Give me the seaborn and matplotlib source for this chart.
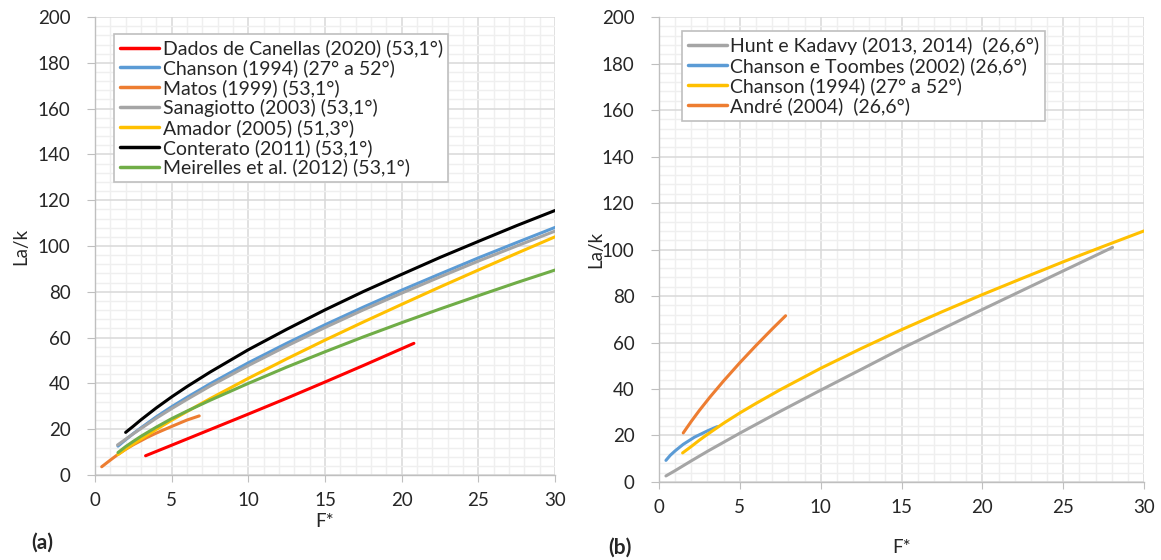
import numpy as np
import pandas as pd
import seaborn as sns
import matplotlib.pyplot as plt
from matplotlib.ticker import MultipleLocator

# ---- panel (a) data ----
labels_a = ["Dados de Canellas (2020) (53,1°)", "Chanson (1994) (27° a 52°)", "Matos (1999) (53,1°)",
            "Sanagiotto (2003) (53,1°)", "Amador (2005) (51,3°)", "Conterato (2011) (53,1°)",
            "Meirelles et al. (2012) (53,1°)"]
colors_a = ["#FF0000", "#5B9BD5", "#ED7D31", "#A5A5A5", "#FFC000", "#000000", "#70AD47"]

canellas_x = [3.3, 5, 7.5, 10, 12.5, 15, 17.5, 20.8]
canellas_y = [8.4, 13.0, 19.8, 26.6, 33.5, 40.6, 47.8, 57.5]
chanson_x = [1.5, 2, 2.5, 3, 4, 5, 6, 7.5, 10, 12.5, 15, 17.5, 20, 22.5, 25, 27.5, 30]
chanson_y = [12.6, 15.4, 18.1, 20.6, 25.4, 29.8, 33.9, 39.8, 49.0, 57.5, 65.6, 73.3, 80.7, 87.8, 94.8, 101.5, 108.1]
matos_x = [0.44, 1, 1.5, 2, 2.5, 3.4, 4, 5, 6, 6.8]
matos_y = [3.6, 6.5, 9.0, 11.2, 13.2, 16.4, 18.3, 21.2, 24.0, 25.8]
sanagiotto_x = [1.47, 2, 2.5, 3, 4, 5, 6, 7.5, 10, 12.5, 15, 17.5, 20, 22.5, 25, 27.5, 30]
sanagiotto_y = [13.1, 15.6, 18.0, 20.3, 24.8, 29.0, 33.0, 38.8, 47.8, 56.3, 64.4, 72.1, 79.4, 86.5, 93.4, 100.0, 106.5]
amador_x = [1.5, 2, 2.5, 3, 4, 5, 6, 7.5, 10, 12.5, 15, 17.5, 20, 22.5, 25, 27.5, 30]
amador_y = [8.9, 11.3, 13.5, 15.7, 19.9, 23.9, 27.7, 33.3, 42.2, 50.7, 58.9, 66.8, 74.5, 82.1, 89.5, 96.8, 104.0]
conterato_x = [2, 2.5, 3, 4, 5, 6, 7.5, 10, 12.5, 15, 17.5, 20, 22.5, 25, 27.5, 30]
conterato_y = [18.6, 21.3, 24.1, 29.3, 34.1, 38.6, 44.9, 54.7, 63.6, 72.1, 80.1, 87.6, 95.0, 102.0, 108.9, 115.5]
meirelles_x = [1.5, 2, 2.5, 3, 4, 5, 6, 7.5, 10, 12.5, 15, 17.5, 20, 22.5, 25, 27.5, 30]
meirelles_y = [9.8, 12.4, 14.7, 16.9, 20.9, 24.6, 27.9, 32.6, 40.0, 47.1, 53.8, 60.3, 66.5, 72.5, 78.3, 84.0, 89.5]

# ---- panel (b) data ----
labels_b = ["Hunt e Kadavy (2013, 2014)  (26,6°)", "Chanson e Toombes (2002) (26,6°)",
            "Chanson (1994) (27° a 52°)", "André (2004)  (26,6°)"]
colors_b = ["#A5A5A5", "#5B9BD5", "#FFC000", "#ED7D31"]

hunt_x = [0.43, 1, 2, 3, 5, 7.5, 10, 12.5, 15, 17.5, 20, 22.5, 25, 28.05]
hunt_y = [2.6, 4.9, 9.1, 13.2, 21.0, 30.4, 39.5, 48.4, 57.4, 65.8, 74.2, 82.5, 90.8, 100.9]
toombes_x = [0.43, 0.7, 1.0, 1.5, 2.2, 3.0, 3.6]
toombes_y = [9.3, 11.5, 13.4, 16.2, 19.3, 22.0, 23.8]
chanson_b_x = [1.46, 2, 2.5, 3, 4, 5, 6, 7.5, 10, 12.5, 15, 17.5, 20, 22.5, 25, 27.5, 30]
chanson_b_y = [12.5, 15.3, 18.0, 20.5, 25.3, 29.7, 33.8, 39.7, 48.9, 57.4, 65.5, 73.2, 80.6, 87.7, 94.7, 101.4, 108.0]
andre_x = [1.5, 2, 2.5, 3.15, 4, 5, 6, 7, 7.83]
andre_y = [21.1, 26.1, 30.8, 36.5, 43.5, 51.3, 58.7, 65.8, 71.5]


def long_df(series, labels):
    frames = []
    for (xs, ys), lab in zip(series, labels):
        frames.append(pd.DataFrame({"F": xs, "La": ys, "serie": lab}))
    return pd.concat(frames, ignore_index=True)


df_a = long_df([(canellas_x, canellas_y), (chanson_x, chanson_y), (matos_x, matos_y),
                (sanagiotto_x, sanagiotto_y), (amador_x, amador_y), (conterato_x, conterato_y),
                (meirelles_x, meirelles_y)], labels_a)
df_b = long_df([(hunt_x, hunt_y), (toombes_x, toombes_y), (chanson_b_x, chanson_b_y),
                (andre_x, andre_y)], labels_b)

sns.set_style("white")
plt.rcParams["font.family"] = ["Lato", "DejaVu Sans"]

fig = plt.figure(figsize=(11.61, 5.60), dpi=100)
ax1 = fig.add_axes([0.0818, 0.1518, 0.3962, 0.8178])
ax2 = fig.add_axes([0.5676, 0.1393, 0.4178, 0.8303])

for ax, df, labels, colors in [(ax1, df_a, labels_a, colors_a), (ax2, df_b, labels_b, colors_b)]:
    sns.lineplot(data=df, x="F", y="La", hue="serie", hue_order=labels,
                 palette=dict(zip(labels, colors)), sort=False, estimator=None,
                 linewidth=2.2, ax=ax)
    ax.set_xlim(0, 30)
    ax.set_ylim(0, 200)
    ax.xaxis.set_major_locator(MultipleLocator(5))
    ax.xaxis.set_minor_locator(MultipleLocator(1))
    ax.yaxis.set_major_locator(MultipleLocator(20))
    ax.yaxis.set_minor_locator(MultipleLocator(4))
    ax.grid(which="major", color="#D9D9D9", linewidth=1.1)
    ax.grid(which="minor", color="#EFEFEF", linewidth=1.0)
    ax.set_axisbelow(True)
    for s in ["top", "right"]:
        ax.spines[s].set_visible(False)
    for s in ["left", "bottom"]:
        ax.spines[s].set_color("#BFBFBF")
        ax.spines[s].set_linewidth(1.0)
    ax.tick_params(which="major", color="#BFBFBF", labelsize=13.5, left=True, bottom=True)
    ax.tick_params(axis="x", which="major", length=5, pad=7)
    ax.tick_params(axis="y", which="major", length=5.5, pad=12)
    ax.tick_params(which="minor", length=0)
    ax.set_xlabel("F*", fontsize=13.5)
    leg = ax.legend(loc="upper left", fontsize=14, frameon=True, fancybox=False,
                    edgecolor="#BFBFBF", framealpha=1, handlelength=2.0,
                    handletextpad=0.2, labelspacing=0.1, borderpad=0.3)
    leg.get_frame().set_linewidth(1.2)
    for ln in leg.get_lines():
        ln.set_linewidth(2.5)

ax1.set_ylabel("La/k", fontsize=13.5, labelpad=6)
ax2.set_ylabel("La/k", fontsize=13.5, labelpad=-2)
ax1.xaxis.labelpad = 3
ax2.xaxis.labelpad = 17

ax1.legend_.set_bbox_to_anchor((0.02, 0.985))
ax2.legend_.set_bbox_to_anchor((0.027, 0.99))

fig.text(42 / 1161, 1 - 543 / 560, "(a)", fontsize=15, fontweight="bold", ha="center", va="center")
fig.text(620 / 1161, 1 - 548 / 560, "(b)", fontsize=15, fontweight="bold", ha="center", va="center")

fig.savefig("out.png", dpi=100)
